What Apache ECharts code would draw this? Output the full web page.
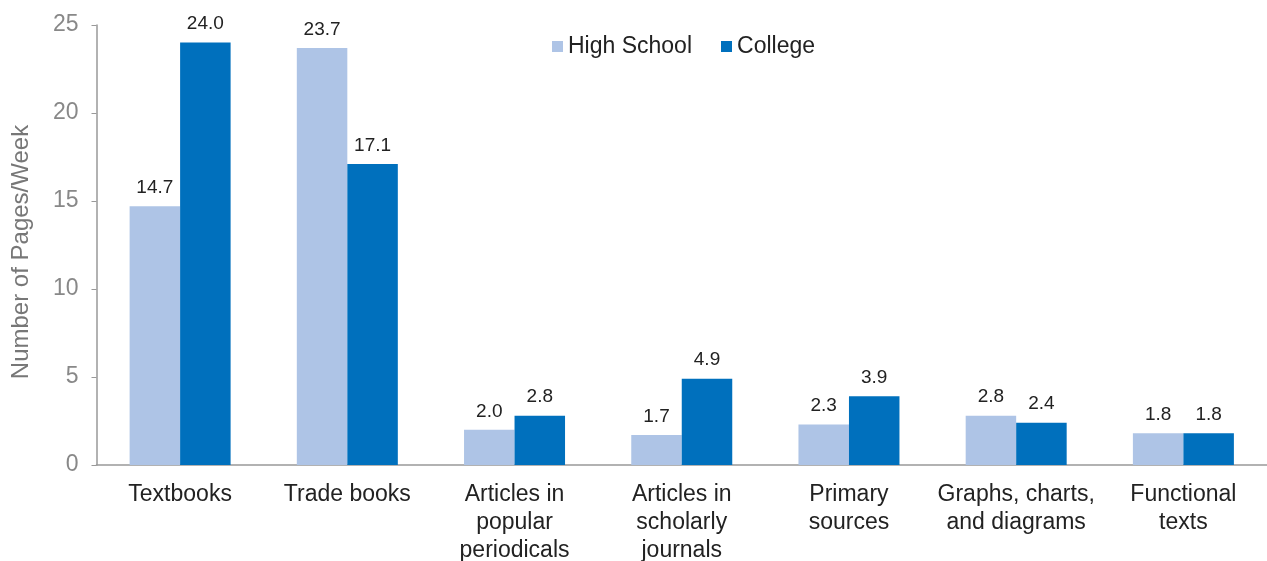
<!DOCTYPE html>
<html><head><meta charset="utf-8">
<script src="https://cdn.jsdelivr.net/npm/echarts@6/dist/echarts.min.js"></script>
<style>html,body{margin:0;padding:0;background:#fff;overflow:hidden}#c{width:1267px;height:561px}</style>
</head><body><div id="c"></div>
<script>
var categories = ['Textbooks', 'Trade books', 'Articles in\npopular\nperiodicals', 'Articles in\nscholarly\njournals', 'Primary\nsources', 'Graphs, charts,\nand diagrams', 'Functional\ntexts'];
var highSchool = [14.7, 23.7, 2.0, 1.7, 2.3, 2.8, 1.8];
var college = [24.0, 17.1, 2.8, 4.9, 3.9, 2.4, 1.8];
var seriesNames = ['High School', 'College'];
var yTitle = 'Number of Pages/Week';

var FONT = '"Liberation Sans", Arial, sans-serif';
var chart = echarts.init(document.getElementById('c'));
var lbl = {show: true, position: 'top', distance: 9, color: '#222', fontSize: 19, fontFamily: FONT, formatter: function(p){return p.value.toFixed(1);}};
chart.setOption({
  animation: false,
  textStyle: {fontFamily: FONT},
  grid: {left: 96.5, right: 0, top: 25, bottom: 96, containLabel: false, outerBoundsMode: 'none'},
  legend: {
    data: seriesNames, top: 30, left: 547, itemWidth: 11, itemHeight: 11, itemGap: 29,
    icon: 'rect', textStyle: {fontSize: 23, color: '#222', fontFamily: FONT}
  },
  xAxis: {
    type: 'category', data: categories,
    axisLine: {lineStyle: {color: '#999', width: 1.5}},
    axisTick: {show: false},
    axisLabel: {color: '#222', fontSize: 23, lineHeight: 28, margin: 16, interval: 0, fontFamily: FONT}
  },
  yAxis: {
    type: 'value', min: 0, max: 25, interval: 5,
    name: yTitle, nameLocation: 'middle', nameGap: 63, nameRotate: 90,
    nameTextStyle: {color: '#777', fontSize: 24, fontFamily: FONT, padding: [0, 14, 0, 0]},
    axisLine: {show: true, lineStyle: {color: '#999', width: 1.5}},
    axisTick: {show: true, length: 5, lineStyle: {color: '#999'}},
    splitLine: {show: false},
    axisLabel: {color: '#888', fontSize: 23, margin: 18, fontFamily: FONT}
  },
  series: [
    {name: seriesNames[0], type: 'bar', data: highSchool, barWidth: 50.5, barGap: '0%', itemStyle: {color: '#AEC4E6'}, label: lbl},
    {name: seriesNames[1], type: 'bar', data: college, barWidth: 50.5, barGap: '0%', itemStyle: {color: '#0070BD'}, label: lbl}
  ]
});
</script></body></html>
